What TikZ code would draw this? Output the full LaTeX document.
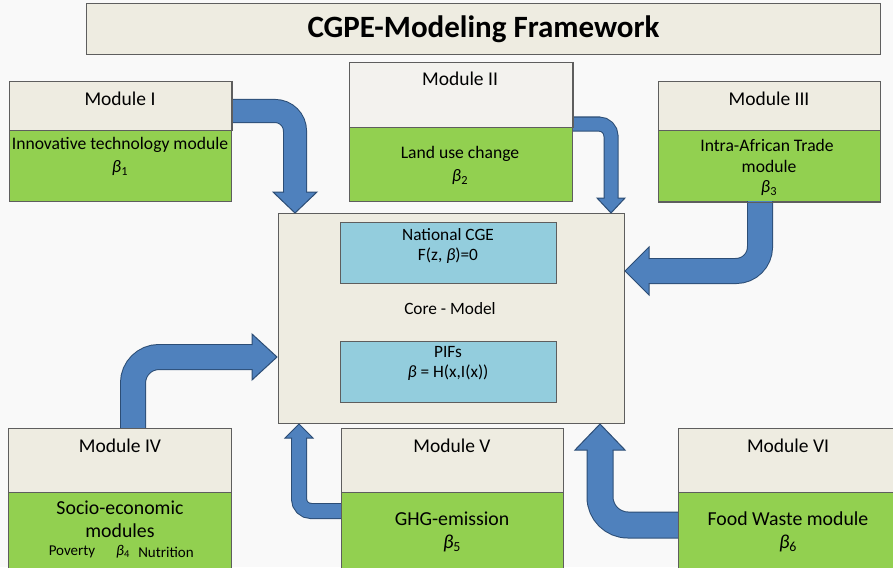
\documentclass[tikz,border=0pt]{standalone}
\usepackage{fontspec}
\setmainfont{Carlito}
\definecolor{beige}{HTML}{EEECE1}
\definecolor{beigeL}{HTML}{F3F2EE}
\definecolor{grn}{HTML}{92D050}
\definecolor{aqua}{HTML}{93CDDD}
\definecolor{arrowblue}{HTML}{4F81BD}
\definecolor{arrowdark}{HTML}{2C4D75}
\definecolor{boxline}{HTML}{5E5E5E}
\definecolor{bgc}{HTML}{F9F9F9}
\begin{document}
\begin{tikzpicture}[x=1pt,y=-1pt,
  box/.style={draw=boxline, line width=1pt, anchor=north west, inner sep=0pt},
  hdr/.style={font=\fontsize{19.5}{23}\selectfont, inner sep=0pt, align=center},
  lbl/.style={font=\fontsize{17.6}{21}\selectfont, inner sep=0pt, align=center},
  lblb/.style={font=\fontsize{19.8}{23}\selectfont, inner sep=0pt, align=center},
  lblc/.style={font=\fontsize{17.3}{20}\selectfont, inner sep=0pt, align=center},
  lbls/.style={font=\fontsize{15}{17}\selectfont, inner sep=0pt},
  shaftout/.style={draw=arrowdark, line cap=butt},
  shaftin/.style={draw=arrowblue, line cap=butt},
  headfill/.style={fill=arrowblue},
  headline/.style={draw=arrowdark, line width=1pt, line join=miter},
]
\fill[bgc] (0,0) rectangle (893,567);
\useasboundingbox (0,0) rectangle (893,567);
\clip (0,0) rectangle (893,567);

% ---------- boxes ----------
\node[box, fill=beige, minimum width=794pt, minimum height=51pt] (title) at (86,3) {};
\node[font=\bfseries\fontsize{31}{35}\selectfont, inner sep=0pt] (titletext) at (title.center) {CGPE-Modeling Framework};

\node[box, fill=beige, minimum width=222pt, minimum height=49pt] (m1a) at (9,81) {};
\node[box, fill=grn, minimum width=222pt, minimum height=71pt] (m1b) at (9,130) {};

\node[box, fill=beigeL, minimum width=223pt, minimum height=65pt] (m2a) at (349,62) {};
\node[box, fill=grn, minimum width=223pt, minimum height=74pt] (m2b) at (349,127) {};

\node[box, fill=beige, minimum width=222pt, minimum height=49pt] (m3a) at (658,81) {};
\node[box, fill=grn, minimum width=222pt, minimum height=71pt] (m3b) at (658,130) {};

\node[box, fill=beige, minimum width=346pt, minimum height=210pt] (core) at (278,213) {};
\node[box, fill=aqua, minimum width=216pt, minimum height=61pt] (cge) at (340,222) {};
\node[box, fill=aqua, minimum width=216pt, minimum height=61pt] (pif) at (340,341) {};

\node[box, fill=beige, minimum width=223pt, minimum height=64pt] (m4a) at (8,428) {};
\node[box, fill=grn, minimum width=223pt, minimum height=90pt] (m4b) at (8,492) {};

\node[box, fill=beige, minimum width=222pt, minimum height=64pt] (m5a) at (341,428) {};
\node[box, fill=grn, minimum width=222pt, minimum height=90pt] (m5b) at (341,492) {};

\node[box, fill=beige, minimum width=220pt, minimum height=64pt] (m6a) at (678,428) {};
\node[box, fill=grn, minimum width=220pt, minimum height=90pt] (m6b) at (678,492) {};

% ---------- block arrows ----------
% I
\draw[shaftout, line width=24pt, rounded corners=20pt] (m1a.east |- 0,111) -- (295,111) -- (295,192);
\draw[shaftin, line width=22pt, rounded corners=20pt] (m1a.east |- 0,111) -- (295,111) -- (295,192);
\fill[headfill] (273,192) -- (295,213) -- (317,192) -- cycle;
\draw[headline] (284,192) -- (273,192) -- (295,213) -- (317,192) -- (306,192);
% II
\draw[shaftout, line width=15pt, rounded corners=12pt] (m2a.east |- 0,124) -- (611,124) -- (611,198);
\draw[shaftin, line width=13pt, rounded corners=12pt] (m2a.east |- 0,124) -- (611,124) -- (611,198);
\fill[headfill] (597,198) -- (611,213) -- (625,198) -- cycle;
\draw[headline] (604.5,198) -- (597,198) -- (611,213) -- (625,198) -- (617.5,198);
% III
\draw[shaftout, line width=26pt, rounded corners=24pt] (760,201) -- (760,271) -- (649,271);
\draw[shaftin, line width=24pt, rounded corners=24pt] (760,201) -- (760,271) -- (649,271);
\fill[headfill] (649,247) -- (625,271) -- (649,295) -- cycle;
\draw[headline] (649,259) -- (649,247) -- (625,271) -- (649,295) -- (649,283);
% IV
\draw[shaftout, line width=26pt, rounded corners=26pt] (133,428) -- (133,357) -- (252,357);
\draw[shaftin, line width=24pt, rounded corners=26pt] (133,428) -- (133,357) -- (252,357);
\fill[headfill] (252,334) -- (277,357) -- (252,380) -- cycle;
\draw[headline] (252,345) -- (252,334) -- (277,357) -- (252,380) -- (252,369);
% V
\draw[shaftout, line width=16pt, rounded corners=12pt] (341,511) -- (299,511) -- (299,438);
\draw[shaftin, line width=14pt, rounded corners=12pt] (341,511) -- (299,511) -- (299,438);
\fill[headfill] (285,438) -- (299,424) -- (313,438) -- cycle;
\draw[headline] (292,438) -- (285,438) -- (299,424) -- (313,438) -- (306,438);
% VI
\draw[shaftout, line width=27pt, rounded corners=28pt] (678,525) -- (600,525) -- (600,450);
\draw[shaftin, line width=25pt, rounded corners=28pt] (678,525) -- (600,525) -- (600,450);
\fill[headfill] (575,450) -- (600,424) -- (625,450) -- cycle;
\draw[headline] (587.5,450) -- (575,450) -- (600,424) -- (625,450) -- (612.5,450);

% redraw box borders where arrows start
\draw[boxline, line width=1pt] (m1a.north east) -- (m1a.south east);
\draw[boxline, line width=1pt] (m2a.north east) -- (m2a.south east);
\draw[boxline, line width=1pt] (m3b.south west) -- (m3b.south east);
\draw[boxline, line width=1pt] (m4a.north west) -- (m4a.north east);
\draw[boxline, line width=1pt] (m5b.north west) -- (m5b.south west);
\draw[boxline, line width=1pt] (m6b.north west) -- (m6b.south west);

% ---------- texts ----------
\node[hdr] (t1) at (120,99) {Module I};
\node[lbl] (t1b) at (120,145) {Innovative technology module};
\node[lbl] (t1c) at (120,168) {\textit{β}\textsubscript{1}};

\node[hdr] (t2) at (460,79) {Module II};
\node[lbl] (t2b) at (460,154) {Land use change};
\node[lbl] (t2c) at (460,177) {\textit{β}\textsubscript{2}};

\node[hdr] (t3) at (769,99) {Module III};
\node[lbl] (t3b) at (767,145) {Intra-African Trade};
\node[lbl] (t3c) at (769,166) {module};
\node[lbl] (t3d) at (769,188) {\textit{β}\textsubscript{3}};

\node[lblc] (tc1) at (448,235) {National CGE};
\node[lblc] (tc2) at (448,256) {F(z, \textit{β})=0};
\node[lblc] (tc3) at (450,309) {Core - Model};
\node[lblc] (tc4) at (448,352) {PIFs};
\node[lblc] (tc5) at (448,373) {\textit{β} = H(x,I(x))};

\node[hdr] (t4) at (120,446) {Module IV};
\node[lblb] (t4b) at (120,508) {Socio-economic};
\node[lblb] (t4c) at (120,531) {modules};
\node[lbls] (t4d) at (72,552) {Poverty};
\node[lbls] (t4e) at (123,552) {\textit{β}\textsubscript{4}};
\node[lbls] (t4f) at (166,552) {Nutrition};

\node[hdr] (t5) at (452,446) {Module V};
\node[lblb] (t5b) at (452,519) {GHG-emission};
\node[lblb] (t5c) at (452,543) {\textit{β}\textsubscript{5}};

\node[hdr] (t6) at (788,446) {Module VI};
\node[lblb] (t6b) at (788,519) {Food Waste module};
\node[lblb] (t6c) at (788,543) {\textit{β}\textsubscript{6}};
\end{tikzpicture}
\end{document}
